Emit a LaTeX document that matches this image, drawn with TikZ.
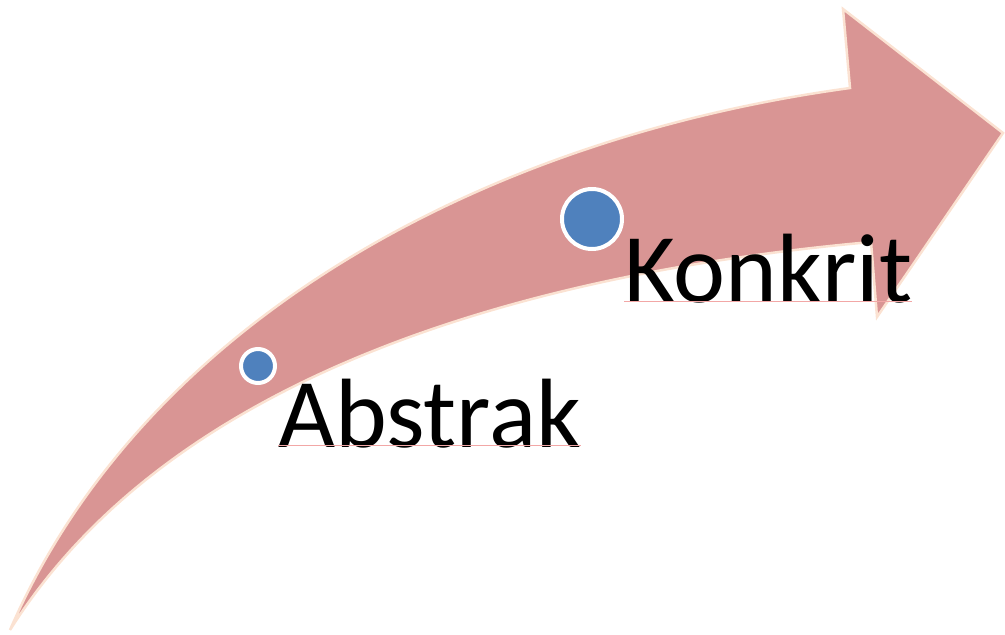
\documentclass[tikz,border=0pt]{standalone}
\usepackage{fontspec}
\setmainfont{Carlito}
\definecolor{arrowfill}{HTML}{D99594}
\definecolor{arrowedge}{HTML}{FBE2D2}
\definecolor{dotblue}{HTML}{4F81BD}
\definecolor{uline}{HTML}{F2A7A6}
\tikzset{
  dot/.style={circle, fill=dotblue, draw=white, line width=4pt, inner sep=0pt},
  lbl/.style={anchor=base west, inner sep=0pt, font=\fontsize{98.5}{100}\selectfont},
}
\begin{document}
\begin{tikzpicture}[x=1pt,y=-1pt]
\useasboundingbox (0,0) rectangle (1005,635);
\filldraw[fill=arrowfill, draw=arrowedge, line width=2.5pt, line join=miter]
  (10,630) .. controls (140,330) and (470,140) .. (850,88)
  -- (843,9) -- (1003,133) -- (877,317) -- (871,242)
  .. controls (560,270) and (180,360) .. (10,630)
  -- cycle;
\node[dot, minimum size=34pt] (d1) at (258,366) {};
\node[dot, minimum size=60pt] (d2) at (592,219) {};
\node[lbl] (t1) at (278,447) {Abstrak};
\node[lbl] (t2) at (624,302) {Konkrit};
\draw[uline, line width=1pt] ([yshift=1.5pt]t1.base west) -- ([yshift=1.5pt]t1.base east);
\draw[uline, line width=1pt] ([yshift=1pt]t2.base west) -- ([yshift=1pt]t2.base east);
\end{tikzpicture}
\end{document}
